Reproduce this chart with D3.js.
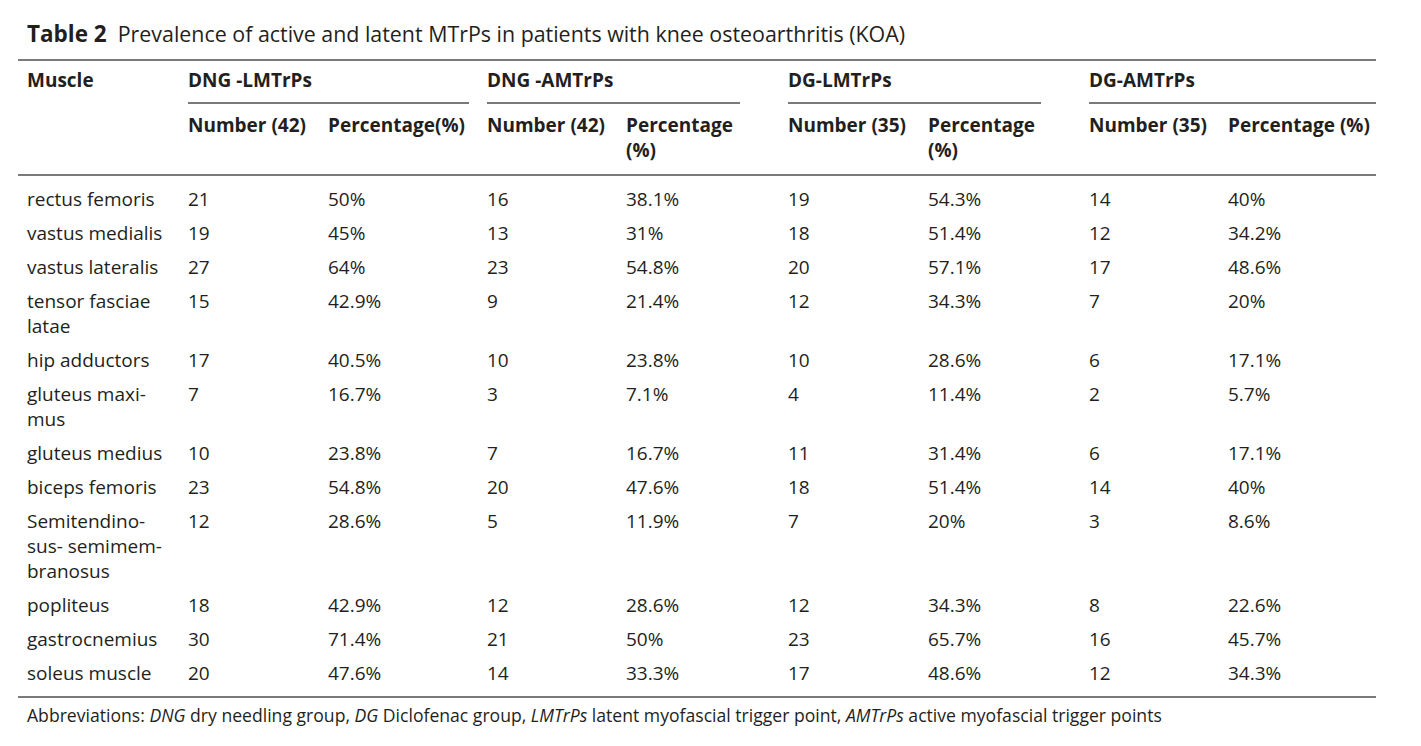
<!DOCTYPE html>
<html>
<head>
<meta charset="utf-8">
<script src="https://cdn.jsdelivr.net/npm/d3@7"></script>
<style>
  body { margin: 0; background: #fff; }
  text { font-family: "Open Sans", sans-serif; fill: #231f20; }
</style>
</head>
<body>
<div id="table"></div>
<script>
// TABLE DATA
const muscles = [
  ["rectus femoris"], ["vastus medialis"], ["vastus lateralis"], ["tensor fasciae", "latae"],
  ["hip adductors"], ["gluteus maxi-", "mus"], ["gluteus medius"], ["biceps femoris"],
  ["Semitendino-", "sus- semimem-", "branosus"], ["popliteus"], ["gastrocnemius"], ["soleus muscle"]
]
const dngLNum = [21, 19, 27, 15, 17, 7, 10, 23, 12, 18, 30, 20]
const dngLPct = ["50%", "45%", "64%", "42.9%", "40.5%", "16.7%", "23.8%", "54.8%", "28.6%", "42.9%", "71.4%", "47.6%"]
const dngANum = [16, 13, 23, 9, 10, 3, 7, 20, 5, 12, 21, 14]
const dngAPct = ["38.1%", "31%", "54.8%", "21.4%", "23.8%", "7.1%", "16.7%", "47.6%", "11.9%", "28.6%", "50%", "33.3%"]
const dgLNum = [19, 18, 20, 12, 10, 4, 11, 18, 7, 12, 23, 17]
const dgLPct = ["54.3%", "51.4%", "57.1%", "34.3%", "28.6%", "11.4%", "31.4%", "51.4%", "20%", "34.3%", "65.7%", "48.6%"]
const dgANum = [14, 12, 17, 7, 6, 2, 6, 14, 3, 8, 16, 12]
const dgAPct = ["40%", "34.2%", "48.6%", "20%", "17.1%", "5.7%", "17.1%", "40%", "8.6%", "22.6%", "45.7%", "34.3%"]

const groups = ["DNG -LMTrPs", "DNG -AMTrPs", "DG-LMTrPs", "DG-AMTrPs"]
const subHeads = [
  ["Number (42)"], ["Percentage(%)"], ["Number (42)"], ["Percentage", "(%)"],
  ["Number (35)"], ["Percentage", "(%)"], ["Number (35)"], ["Percentage (%)"]
]

// SVG PROPERTIES
const width = 1421, height = 746
const svg = d3.select("#table").append("svg")
  .attr("width", width).attr("height", height)

// COLUMN POSITIONS
const colKeys = ["muscle", "c0", "c1", "c2", "c3", "c4", "c5", "c6", "c7"]
const xCol = d3.scaleOrdinal().domain(colKeys)
  .range([27, 188, 328, 487, 626, 788, 928, 1089, 1228])
const groupSpan = [[188, 469], [487, 740], [788, 1041], [1089, 1376]]

// ROW POSITIONS (first line centre of each row)
const lineH = 25.2, rowH = 34
let rowY = []
let y = 198.5
muscles.forEach(m => { rowY.push(y); y += rowH + (m.length - 1)*lineH })

const lineColor = "#7a7a7a"
const hline = (x1, x2, yy) => svg.append("line")
  .attr("x1", x1).attr("x2", x2).attr("y1", yy).attr("y2", yy)
  .attr("stroke", lineColor).attr("stroke-width", 2)

// TITLE
const title = svg.append("text").attr("x", 27).attr("y", 33)
  .attr("dominant-baseline", "central")
title.append("tspan").style("font-weight", "bold").style("font-size", "22.5px").text("Table 2")
title.append("tspan").attr("dx", 11).style("font-size", "21.4px")
  .text("Prevalence of active and latent MTrPs in patients with knee osteoarthritis (KOA)")

// RULES
hline(18, 1376, 60)
groupSpan.forEach(s => hline(s[0], s[1], 103))
hline(18, 1376, 175)
hline(18, 1376, 697)

// HEADERS
const head = svg.append("g").style("font-weight", "bold").style("font-size", "19px")
head.append("text").attr("x", xCol("muscle")).attr("y", 80)
  .attr("dominant-baseline", "central").text("Muscle")
head.selectAll("text.group").data(groups).enter().append("text")
  .attr("class", "group")
  .attr("x", (d, i) => groupSpan[i][0]).attr("y", 80)
  .attr("dominant-baseline", "central").text(d => d)
head.selectAll("text.sub").data(subHeads).enter().append("text")
  .attr("class", "sub")
  .attr("x", (d, i) => xCol("c" + i)).attr("y", 125)
  .attr("dominant-baseline", "central")
  .each(function(d) {
    d3.select(this).selectAll("tspan").data(d).enter().append("tspan")
      .attr("x", d3.select(this).attr("x"))
      .attr("dy", (t, j) => j === 0 ? 0 : lineH)
      .text(t => t)
  })

// BODY
const cols = [dngLNum, dngLPct, dngANum, dngAPct, dgLNum, dgLPct, dgANum, dgAPct]
const body = svg.append("g").style("font-size", "19px")
const rows = body.selectAll("g.row").data(muscles).enter().append("g")
  .attr("class", "row")
  .attr("transform", (d, i) => "translate(0," + rowY[i] + ")")
rows.append("text").attr("x", xCol("muscle")).attr("dominant-baseline", "central")
  .each(function(d) {
    d3.select(this).selectAll("tspan").data(d).enter().append("tspan")
      .attr("x", xCol("muscle"))
      .attr("dy", (t, j) => j === 0 ? 0 : lineH)
      .text(t => t)
  })
rows.each(function(d, i) {
  d3.select(this).selectAll("text.val").data(cols).enter().append("text")
    .attr("class", "val")
    .attr("x", (c, k) => xCol("c" + k))
    .attr("dominant-baseline", "central")
    .text(c => c[i])
})

// FOOTNOTE
const foot = svg.append("text").attr("x", 27).attr("y", 715)
  .attr("dominant-baseline", "central").style("font-size", "17.6px")
const footParts = [
  ["Abbreviations: ", false], ["DNG", true], [" dry needling group, ", false],
  ["DG", true], [" Diclofenac group, ", false], ["LMTrPs", true],
  [" latent myofascial trigger point, ", false], ["AMTrPs", true],
  [" active myofascial trigger points", false]
]
foot.selectAll("tspan").data(footParts).enter().append("tspan")
  .style("font-style", d => d[1] ? "italic" : "normal")
  .text(d => d[0])
</script>
</body>
</html>
